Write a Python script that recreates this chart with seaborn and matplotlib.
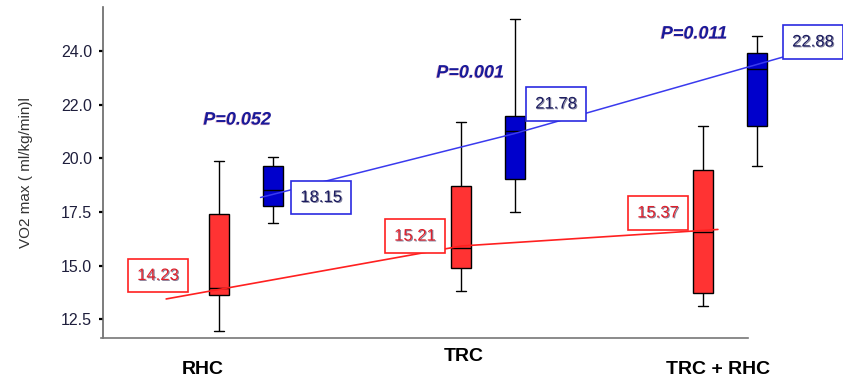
import numpy as np
import pandas as pd
import seaborn as sns
import matplotlib.pyplot as plt
import matplotlib.patheffects as pe

sns.set_style('white')
plt.rcParams['font.family'] = ['Liberation Sans', 'DejaVu Sans']

# groups and five-number summaries (min, q1, median, q3, max)
groups = ['RHC', 'TRC', 'TRC + RHC']
phases = ['Pre', 'Post']
pre_stats = [[11.97, 13.63, 13.97, 17.42, 19.88],
             [13.83, 14.88, 15.82, 18.71, 21.70],
             [13.12, 13.71, 16.56, 19.46, 21.51]]
post_stats = [[16.99, 17.80, 18.53, 19.66, 20.05],
              [17.50, 19.03, 21.28, 21.96, 26.50],
              [19.65, 21.51, 24.16, 24.93, 25.69]]

# trend lines (x in category units, y in axis units)
pre_trend_x = [-0.33, 0.89, 1.95]
pre_trend_y = [13.45, 15.92, 16.69]
post_trend_x = [0.06, 1.11, 2.22]
post_trend_y = [18.18, 21.16, 24.73]

# mean labels and p values
pre_means = ['14.23', '15.21', '15.37']
post_means = ['18.15', '21.78', '22.88']
p_values = ['P=0.052', 'P=0.001', 'P=0.011']

# axis ticks (labels as printed on the original)
ytick_pos = [12.5, 15.0, 17.5, 20.0, 22.5, 25.0]
ytick_labels = ['12.5', '15.0', '17.5', '20.0', '22.0', '24.0']

rows = []
for g, pre, post in zip(groups, pre_stats, post_stats):
    for v in pre:
        rows.append({'group': g, 'phase': 'Pre', 'vo2': v})
    for v in post:
        rows.append({'group': g, 'phase': 'Post', 'vo2': v})
df = pd.DataFrame(rows)

fig = plt.figure(figsize=(8.43, 3.81), dpi=100)
ax = fig.add_axes([103 / 843, 43 / 381, 740 / 843, 331 / 381])

sns.boxplot(data=df, x='group', y='vo2', hue='phase', order=groups, hue_order=phases,
            palette={'Pre': '#ff3333', 'Post': '#0000cc'}, saturation=1,
            whis=(0, 100), width=0.45, gap=0.63, dodge=True,
            linecolor='black', linewidth=1, legend=False, ax=ax)

ax.plot(pre_trend_x, pre_trend_y, color='#ff2020', lw=1.2, zorder=4)
ax.plot(post_trend_x, post_trend_y, color='#3a3aee', lw=1.1, zorder=4)

shadow = [pe.withSimplePatchShadow(offset=(0.8, -0.6), shadow_rgbFace='#202050', alpha=0.55)]

pre_label_pos = [(-0.364, 14.54), (0.698, 16.38), (1.702, 17.46)]
post_label_pos = [(0.31, 18.18), (1.281, 22.54), (2.343, 25.43)]
for txt, (x, y) in zip(pre_means, pre_label_pos):
    ax.text(x, y, txt, ha='center', va='center', fontsize=12, color='#e0202a',
            path_effects=shadow, zorder=6,
            bbox=dict(boxstyle='square,pad=0.55', fc='white', ec='#ff2020', lw=1.2))
for txt, (x, y) in zip(post_means, post_label_pos):
    ax.text(x, y, txt, ha='center', va='center', fontsize=12, color='#1c1c60',
            path_effects=shadow, zorder=6,
            bbox=dict(boxstyle='square,pad=0.55', fc='white', ec='#2a2ae0', lw=1.2))

p_pos = [(-0.037, 21.79), (0.926, 23.98), (1.851, 25.80)]
for txt, (x, y) in zip(p_values, p_pos):
    ax.text(x, y, txt, ha='center', va='center', fontsize=13, color='#1a1a9a',
            fontweight='bold', fontstyle='italic', zorder=6,
            path_effects=[pe.withSimplePatchShadow(offset=(-0.6, -0.4), shadow_rgbFace='#c03060', alpha=0.4)])

# x labels sit a little left of the box pairs and below the axis in the original
xlabel_pos = [(-0.18, 10.18), (0.90, 10.79), (1.95, 10.18)]
for g, (x, y) in zip(groups, xlabel_pos):
    ax.text(x, y, g, ha='center', va='center', fontsize=14, fontweight='bold',
            color='black', clip_on=False)

ax.set_xlim(-0.591, 2.467)
ax.set_ylim(11.63, 27.06)
ax.set_xticks([])
ax.set_xlabel('')
ax.set_yticks(ytick_pos)
ax.set_yticklabels(ytick_labels, fontsize=11.5, color='#1e1e3c')
ax.tick_params(axis='y', direction='out', length=3, width=1.6, color='black', pad=5, left=True)
ax.set_ylabel('VO2 max ( ml/kg/min)l', fontsize=11, color='#333333', labelpad=20)

for side in ['top', 'right']:
    ax.spines[side].set_visible(False)
ax.spines['left'].set_color('#666666')
ax.spines['bottom'].set_color('#777777')
ax.spines['left'].set_linewidth(1.2)
ax.spines['bottom'].set_linewidth(1.2)
ax.spines['bottom'].set_bounds(-0.60, 2.074)

plt.savefig('out.png', dpi=100)
plt.close()
